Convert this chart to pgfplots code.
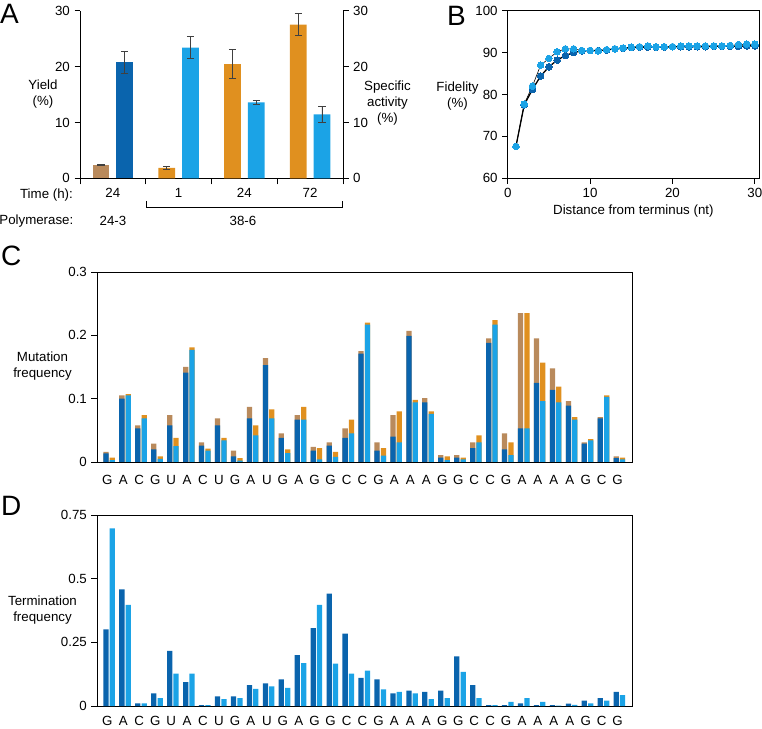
\documentclass[border=0pt]{standalone}
\usepackage{pgfplots}
\pgfplotsset{compat=1.18}
\usepackage{pgfplotstable}
\usepackage{fontspec}
\setmainfont{Liberation Sans}

\definecolor{dblue}{RGB}{10,100,173}
\definecolor{lblue}{RGB}{27,163,230}
\definecolor{tanc}{RGB}{185,138,92}
\definecolor{amber}{RGB}{224,144,31}

% panel C: blue part and total (blue + top segment) per bar
\pgfplotstableread{
x db dt lb lt
0 0.0136 0.016 0.003 0.007
1 0.100 0.105 0.105 0.107
2 0.053 0.058 0.069 0.074
3 0.020 0.029 0.005 0.009
4 0.058 0.074 0.025 0.038
5 0.141 0.150 0.177 0.181
6 0.026 0.031 0.018 0.021
7 0.058 0.069 0.034 0.038
8 0.009 0.018 0.002 0.006
9 0.069 0.087 0.042 0.058
10 0.153 0.164 0.069 0.083
11 0.038 0.045 0.014 0.020
12 0.067 0.074 0.067 0.087
13 0.018 0.024 0.004 0.022
14 0.026 0.031 0.008 0.016
15 0.038 0.053 0.045 0.067
16 0.171 0.175 0.217 0.220
17 0.018 0.031 0.010 0.022
18 0.040 0.074 0.031 0.080
19 0.199 0.207 0.094 0.098
20 0.094 0.101 0.076 0.080
21 0.007 0.011 0.003 0.009
22 0.007 0.011 0.004 0.007
23 0.022 0.031 0.031 0.042
24 0.188 0.195 0.217 0.224
25 0.020 0.045 0.011 0.031
26 0.053 0.235 0.053 0.235
27 0.125 0.195 0.096 0.157
28 0.114 0.148 0.094 0.119
29 0.089 0.096 0.067 0.071
30 0.029 0.031 0.034 0.036
31 0.069 0.071 0.103 0.105
32 0.006 0.009 0.004 0.007
}\mutdata

\pgfplotstableread{
x dk lt
0 0.301 0.698
1 0.458 0.397
2 0.010 0.010
3 0.050 0.031
4 0.216 0.127
5 0.094 0.127
6 0.003 0.003
7 0.038 0.027
8 0.038 0.031
9 0.082 0.067
10 0.089 0.077
11 0.105 0.071
12 0.200 0.168
13 0.306 0.397
14 0.441 0.166
15 0.284 0.127
16 0.110 0.139
17 0.105 0.065
18 0.050 0.055
19 0.060 0.050
20 0.055 0.027
21 0.060 0.031
22 0.195 0.134
23 0.082 0.031
24 0.003 0.003
25 0.003 0.016
26 0.010 0.031
27 0.003 0.016
28 0.003 0.001
29 0.009 0.004
30 0.021 0.010
31 0.031 0.021
32 0.055 0.043
}\termdata

\pgfplotstableread{
x dk lt
1 67.6 67.6
2 77.5 77.7
3 81.2 82.0
4 84.4 87.0
5 86.6 88.6
6 88.2 90.2
7 89.3 90.9
8 90.0 90.9
9 90.4 90.5
10 90.5 90.5
11 90.5 90.4
12 90.6 90.7
13 90.9 90.9
14 91.0 91.1
15 91.2 91.3
16 91.3 91.4
17 91.3 91.6
18 91.3 91.4
19 91.3 91.4
20 91.4 91.4
21 91.4 91.6
22 91.4 91.6
23 91.4 91.6
24 91.4 91.6
25 91.5 91.6
26 91.5 91.6
27 91.5 91.7
28 91.5 91.9
29 91.6 92.0
30 91.6 92.0
}\fiddata

\pgfplotsset{
  every axis/.append style={
    scale only axis,
    anchor=south west,
    axis line style={line width=0.9pt,-},
    tick style={line width=0.9pt,black},
    tick align=outside,
    major tick length=5.5pt,
    /pgf/number format/assume math mode=true,
  },
}

\newcommand{\seq}{G,A,C,G,U,A,C,U,G,A,U,G,A,G,G,C,C,G,A,A,A,G,G,C,C,G,A,A,A,A,G,C,G}

\begin{document}
\fontsize{13.3}{16}\selectfont
\begin{tikzpicture}
\path[use as bounding box] (0pt,0pt) rectangle (762pt,728pt);

% ---- A ----
\begin{axis}[
  at={(80pt,549.7pt)}, width=263pt, height=167.6pt,
  xmin=0.5, xmax=4.5, ymin=0, ymax=30,
  axis x line*=bottom, axis y line*=left,
  xtick={1,2,3,4}, xticklabels={24,1,24,72},
  major x tick style={draw=none},
  minor xtick={0.5,1.5,2.5,3.5,4.5},
  minor tick length=6pt,
  ytick={0,10,20,30},
  error bars/error bar style={line width=0.75pt,black!75},
  error bars/error mark options={rotate=90,mark size=3.6pt,line width=0.75pt,black!75},
]
% yield bars left of each group centre, specific activity right of it
\addplot[ybar, bar width=0.255, fill=tanc, draw=none,
  error bars/.cd, y dir=both, y explicit]
  coordinates {(0.82,2.4) +- (0,0.12)};
\addplot[ybar, bar width=0.255, fill=dblue, draw=none,
  error bars/.cd, y dir=both, y explicit]
  coordinates {(1.18,20.8) +- (0,1.95)};
\addplot[ybar, bar width=0.255, fill=amber, draw=none,
  error bars/.cd, y dir=both, y explicit]
  coordinates {(1.82,1.85) +- (0,0.3) (2.82,20.45) +- (0,2.65) (3.82,27.5) +- (0,2.0)};
\addplot[ybar, bar width=0.255, fill=lblue, draw=none,
  error bars/.cd, y dir=both, y explicit]
  coordinates {(2.18,23.4) +- (0,2.0) (3.18,13.6) +- (0,0.3) (4.18,11.45) +- (0,1.4)};
\end{axis}
\begin{axis}[
  at={(80pt,549.7pt)}, width=263pt, height=167.6pt,
  xmin=0.5, xmax=4.5, ymin=0, ymax=30,
  axis y line*=right, axis x line=none,
  ytick={0,10,20,30},
]
\addplot[draw=none] coordinates {(1,0)};
\end{axis}
\node[anchor=east, inner sep=0pt] at (73pt,533pt) {Time (h):};
\node[anchor=east, inner sep=0pt] at (73.5pt,507pt) {Polymerase:};
\node at (113pt,507pt) {24-3};
\node at (243pt,507pt) {38-6};
\draw[line width=0.9pt] (146.7pt,527pt) -- (146.7pt,520.3pt) -- (342.3pt,520.3pt) -- (342.3pt,527pt);
\node[align=center] at (43pt,633.5pt) {Yield\\(\%)};
\node[align=center] at (387.5pt,625pt) {Specific\\activity\\(\%)};

% ---- B ----
\begin{axis}[
  at={(507.7pt,549.7pt)}, width=251.3pt, height=167.6pt,
  xmin=0, xmax=30.5, ymin=60, ymax=100,
  tick pos=left,
  xtick={0,10,20,30}, ytick={60,70,80,90,100},
  xlabel={Distance from terminus (nt)},
  xlabel style={yshift=2pt},
]
\addplot[black, line width=1.3pt, mark=*, mark size=3.3pt,
  mark options={fill=dblue, draw=dblue, line width=0pt}] table[x=x,y=dk]{\fiddata};
\addplot[black, line width=0.6pt, mark=*, mark size=3.3pt,
  mark options={fill=lblue, draw=lblue, line width=0pt}] table[x=x,y=lt]{\fiddata};
\end{axis}
\node[align=center] at (457.5pt,631.5pt) {Fidelity\\(\%)};

% ---- C ----
\begin{axis}[
  at={(97pt,266pt)}, width=535pt, height=190pt,
  xmin=-0.65, xmax=32.9, ymin=0, ymax=0.3,
  ytick={0,0.1,0.2,0.3}, ytick pos=left,
  xtick={0,...,32}, xticklabels/.expanded={\seq},
  xticklabel style={inner sep=1pt, yshift=-6.5pt},
  major x tick style={draw=none},
]
\addplot[ybar, bar width=0.33, bar shift=-0.09, fill=tanc, draw=none] table[x=x,y=dt]{\mutdata};
\addplot[ybar, bar width=0.33, bar shift=-0.09, fill=dblue, draw=none] table[x=x,y=db]{\mutdata};
\addplot[ybar, bar width=0.33, bar shift=0.31, fill=amber, draw=none] table[x=x,y=lt]{\mutdata};
\addplot[ybar, bar width=0.33, bar shift=0.31, fill=lblue, draw=none] table[x=x,y=lb]{\mutdata};
\end{axis}
\node[align=center] at (42.5pt,362pt) {Mutation\\frequency};

% ---- D ----
\begin{axis}[
  at={(97pt,22pt)}, width=535pt, height=191pt,
  xmin=-0.65, xmax=32.9, ymin=0, ymax=0.75,
  ytick={0,0.25,0.5,0.75}, ytick pos=left,
  xtick={0,...,32}, xticklabels/.expanded={\seq},
  xticklabel style={inner sep=1pt, yshift=-3.5pt},
  major x tick style={draw=none},
]
\addplot[ybar, bar width=0.33, bar shift=-0.09, fill=dblue, draw=none] table[x=x,y=dk]{\termdata};
\addplot[ybar, bar width=0.33, bar shift=0.31, fill=lblue, draw=none] table[x=x,y=lt]{\termdata};
\end{axis}
\node[align=center] at (42.5pt,118pt) {Termination\\frequency};

% panel letters
\node[font=\fontsize{28}{28}\selectfont, anchor=west, inner sep=0pt] at (0pt,714pt) {A};
\node[font=\fontsize{28}{28}\selectfont, anchor=west, inner sep=0pt] at (447pt,712pt) {B};
\node[font=\fontsize{28}{28}\selectfont, anchor=west, inner sep=0pt] at (1pt,472pt) {C};
\node[font=\fontsize{28}{28}\selectfont, anchor=west, inner sep=0pt] at (1pt,222pt) {D};
\end{tikzpicture}
\end{document}
